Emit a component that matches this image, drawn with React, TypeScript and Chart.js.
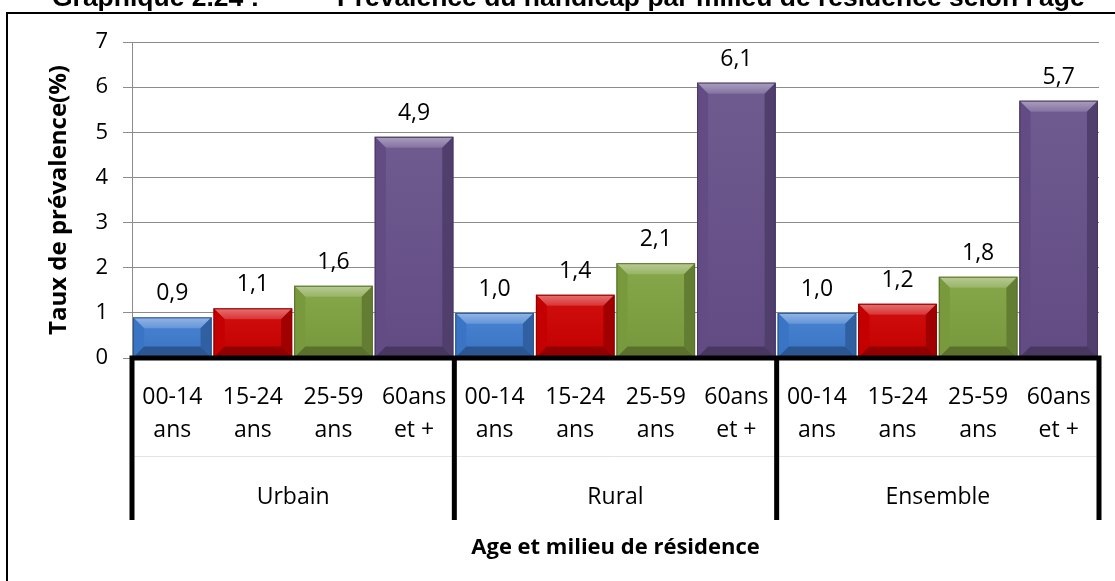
import React, { useEffect, useRef } from "react";
import { Chart, registerables } from "chart.js";

Chart.register(...registerables);

// ---- data ----
const groups = ["Urbain", "Rural", "Ensemble"];
const ageClasses = [
  ["00-14", "ans"],
  ["15-24", "ans"],
  ["25-59", "ans"],
  ["60ans", "et +"],
];
const urbainValues = [0.9, 1.1, 1.6, 4.9];
const ruralValues = [1.0, 1.4, 2.1, 6.1];
const ensembleValues = [1.0, 1.2, 1.8, 5.7];
const ageColors = ["#3d7bcf", "#cf0000", "#7fa140", "#67508a"];
const yMin = 0;
const yMax = 7;
const yStep = 1;
const titleNumber = "Graphique 2.24 :";
const titleText = "Prévalence du handicap par milieu de résidence selon l'âge";
const yTitle = "Taux de prévalence(%)";
const xTitle = "Age et milieu de résidence";

const FONT = "'Open Sans', 'DejaVu Sans', sans-serif";

function hexToRgb(h: string) {
  const n = parseInt(h.slice(1), 16);
  return [(n >> 16) & 255, (n >> 8) & 255, n & 255];
}
function mix(c: string, w: string, t: number) {
  const a = hexToRgb(c);
  const b = hexToRgb(w);
  const r = a.map((v, i) => Math.round(v + (b[i] - v) * t));
  return `rgb(${r[0]},${r[1]},${r[2]})`;
}

const labels = groups.flatMap(() => ageClasses);
const values = [...urbainValues, ...ruralValues, ...ensembleValues];
const colors = groups.flatMap(() => ageColors);

const decorPlugin = {
  id: "decor",
  afterDatasetsDraw(chart: any) {
    const ctx = chart.ctx as CanvasRenderingContext2D;
    const meta = chart.getDatasetMeta(0);
    const xs = chart.scales.x;
    const area = chart.chartArea;

    // bevel effect on bars
    meta.data.forEach((bar: any, i: number) => {
      const p = bar.getProps(["x", "y", "base", "width"], true);
      const l = p.x - p.width / 2;
      const r = p.x + p.width / 2;
      const t = p.y;
      const b = p.base;
      const bv = Math.min(11, (b - t) / 2, p.width / 4);
      const c = colors[i];
      const poly = (pts: number[][], fill: any) => {
        ctx.beginPath();
        ctx.moveTo(pts[0][0], pts[0][1]);
        for (let k = 1; k < pts.length; k++) ctx.lineTo(pts[k][0], pts[k][1]);
        ctx.closePath();
        ctx.fillStyle = fill;
        ctx.fill();
      };
      ctx.save();
      const g = ctx.createLinearGradient(0, t, 0, b);
      g.addColorStop(0, mix(c, "#ffffff", 0.06));
      g.addColorStop(1, mix(c, "#000000", 0.06));
      ctx.fillStyle = g;
      ctx.fillRect(l + bv, t + bv, r - l - 2 * bv, b - t - 2 * bv);
      const tg = ctx.createLinearGradient(0, t, 0, t + bv);
      tg.addColorStop(0, mix(c, "#ffffff", 0.45));
      tg.addColorStop(1, mix(c, "#ffffff", 0.2));
      poly([[l, t], [r, t], [r - bv, t + bv], [l + bv, t + bv]], tg);
      poly([[l, t], [l + bv, t + bv], [l + bv, b - bv], [l, b]], mix(c, "#000000", 0.05));
      poly([[r, t], [r - bv, t + bv], [r - bv, b - bv], [r, b]], mix(c, "#000000", 0.22));
      poly([[l, b], [l + bv, b - bv], [r - bv, b - bv], [r, b]], mix(c, "#000000", 0.3));
      ctx.strokeStyle = mix(c, "#000000", 0.3);
      ctx.lineWidth = 1;
      ctx.strokeRect(l + 0.5, t + 0.5, r - l - 1, b - t - 1);
      ctx.restore();

      // data label
      ctx.save();
      ctx.fillStyle = "#000";
      ctx.font = `23px ${FONT}`;
      ctx.textAlign = "center";
      ctx.textBaseline = "alphabetic";
      ctx.fillText(values[i].toFixed(1).replace(".", ","), p.x, t - 17);
      ctx.restore();
    });

    // multi-level axis lines
    const step = xs.getPixelForValue(1) - xs.getPixelForValue(0);
    const bounds = [0, 4, 8, 12].map((k) => xs.getPixelForValue(k) - step / 2);
    const axisY = area.bottom;
    ctx.save();
    ctx.strokeStyle = "#e4e4e4";
    ctx.lineWidth = 1;
    ctx.beginPath();
    ctx.moveTo(bounds[0], 456.5);
    ctx.lineTo(bounds[3], 456.5);
    ctx.stroke();
    ctx.strokeStyle = "#000";
    ctx.lineWidth = 5;
    ctx.beginPath();
    ctx.moveTo(bounds[0] - 2.5, axisY);
    ctx.lineTo(bounds[3] + 2.5, axisY);
    bounds.forEach((bx) => {
      ctx.moveTo(bx, axisY);
      ctx.lineTo(bx, 520);
    });
    ctx.stroke();

    // group labels
    ctx.fillStyle = "#000";
    ctx.font = `23px ${FONT}`;
    ctx.textAlign = "center";
    ctx.textBaseline = "middle";
    groups.forEach((gname, gi) => {
      ctx.fillText(gname, (bounds[gi] + bounds[gi + 1]) / 2, 497);
    });

    // axis titles
    ctx.font = `bold 22px ${FONT}`;
    ctx.fillText(xTitle, (area.left + area.right) / 2, 548);
    ctx.font = `bold 24px ${FONT}`;
    ctx.translate(59, (area.top + area.bottom) / 2);
    ctx.rotate(-Math.PI / 2);
    ctx.fillText(yTitle, 0, 0);
    ctx.restore();

    // outer frame and cut title
    ctx.save();
    ctx.strokeStyle = "#000";
    ctx.lineWidth = 2;
    ctx.strokeRect(7, 13, 1200, 700);
    ctx.fillStyle = "#000";
    ctx.textAlign = "left";
    ctx.textBaseline = "alphabetic";
    ctx.font = "bold 20px 'Liberation Sans', Arial, sans-serif";
    const wRef = ctx.measureText(titleText).width;
    const size = (20 * 748) / wRef;
    ctx.font = `bold ${size}px 'Liberation Sans', Arial, sans-serif`;
    ctx.fillText(titleNumber, 52, 6);
    ctx.fillText(titleText, 337, 6);
    ctx.restore();
  },
};

export default function App() {
  const ref = useRef<HTMLCanvasElement | null>(null);
  useEffect(() => {
    document.body.style.margin = "0";
    const canvas = ref.current!;
    const chart = new Chart(canvas, {
      type: "bar",
      data: {
        labels,
        datasets: [
          {
            data: values,
            backgroundColor: colors,
            borderWidth: 0,
            barPercentage: 1,
            categoryPercentage: 0.975,
          },
        ],
      },
      options: {
        responsive: false,
        animation: false,
        devicePixelRatio: 1,
        layout: { padding: { left: 0, right: 16, top: 42, bottom: 0 } },
        plugins: {
          legend: { display: false },
          tooltip: { enabled: false },
          title: { display: false },
        },
        scales: {
          x: {
            grid: { display: false, drawTicks: false },
            border: { display: false },
            ticks: {
              color: "#000",
              font: { family: FONT, size: 23, lineHeight: 1.43 },
              padding: 23,
              maxRotation: 0,
              autoSkip: false,
            },
            afterFit: (s: any) => {
              s.height = 223;
            },
          },
          y: {
            min: yMin,
            max: yMax,
            grid: { color: "#8c8c8c", tickLength: 9, lineWidth: 1 },
            border: { color: "#8c8c8c", width: 1 },
            ticks: {
              stepSize: yStep,
              color: "#000",
              font: { family: FONT, size: 22 },
              padding: 15,
            },
            afterFit: (s: any) => {
              s.width = 132;
            },
          },
        },
      },
      plugins: [decorPlugin],
    });
    return () => chart.destroy();
  }, []);
  return (
    <div style={{ position: "fixed", left: 0, top: 0, width: 1115, height: 581, background: "#fff" }}>
      <canvas ref={ref} width={1115} height={581} style={{ display: "block" }} />
    </div>
  );
}
